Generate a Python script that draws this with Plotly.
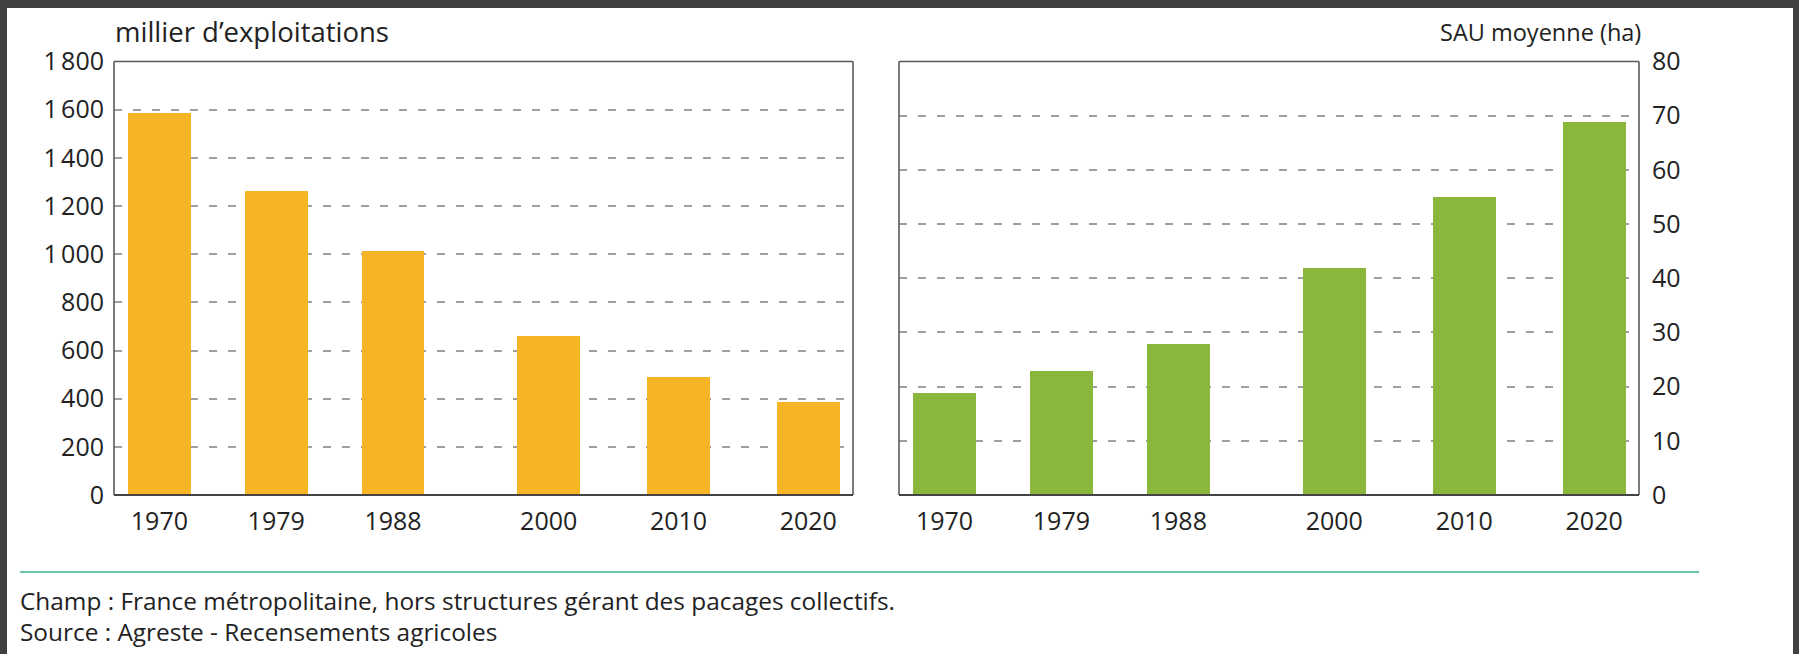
import plotly.graph_objects as go

# ---- data ----
years = [1970, 1979, 1988, 2000, 2010, 2020]
exploitations = [1588, 1263, 1017, 664, 490, 389]   # milliers
sau_moyenne = [19, 23, 28, 42, 55, 69]               # ha

left_ticks = [0, 200, 400, 600, 800, 1000, 1200, 1400, 1600, 1800]
left_ticktext = ["0", "200", "400", "600", "800", "1\u202f000", "1\u202f200", "1\u202f400", "1\u202f600", "1\u202f800"]
right_ticks = [0, 10, 20, 30, 40, 50, 60, 70, 80]
right_ticktext = [str(v) for v in right_ticks]
year_labels = [str(y) for y in years]

title_left = "millier d’exploitations"
title_right = "SAU moyenne (ha)"
note1 = "Champ : France métropolitaine, hors structures gérant des pacages collectifs."
note2 = "Source : Agreste - Recensements agricoles"

# ---- layout constants ----
W, H = 1799, 654
FONT = "Open Sans, sans-serif"
ORANGE = "#F6B524"
GREEN = "#8AB73B"
TXT = "#222222"

def px_x(p):
    return p / W

def px_y(p):
    return 1 - p / H

y_dom = [px_y(495), px_y(61.5)]
xl_dom = [px_x(114), px_x(853)]
xr_dom = [px_x(899), px_x(1639)]
xrange_ = [1966.5, 2023.45]

fig = go.Figure()
fig.add_trace(go.Bar(x=years, y=exploitations, width=4.85, marker=dict(color=ORANGE, line=dict(width=0)),
                     xaxis="x", yaxis="y", showlegend=False, hoverinfo="x+y"))
fig.add_trace(go.Bar(x=years, y=sau_moyenne, width=4.85, marker=dict(color=GREEN, line=dict(width=0)),
                     xaxis="x2", yaxis="y2", showlegend=False, hoverinfo="x+y"))

grid = dict(showgrid=True, gridcolor="#a0a0a0", gridwidth=1.5, griddash="8px,11px", zeroline=False,
            automargin=False)
xcommon = dict(range=xrange_, tickmode="array", tickvals=years, ticktext=year_labels,
               showgrid=False, zeroline=False, showline=False, ticks="", automargin=False,
               tickfont=dict(family=FONT, size=25, color=TXT), ticklabelstandoff=9)

fig.update_layout(
    width=W, height=H,
    margin=dict(l=0, r=0, t=0, b=0, pad=0, autoexpand=False),
    paper_bgcolor="white", plot_bgcolor="white",
    bargap=0,
    xaxis=dict(domain=xl_dom, anchor="y", **xcommon),
    xaxis2=dict(domain=xr_dom, anchor="y2", **xcommon),
    yaxis=dict(domain=y_dom, anchor="x", range=[0, 1800], tickmode="array", tickvals=left_ticks,
               ticktext=left_ticktext, ticks="", showline=False, side="left",
               tickfont=dict(family=FONT, size=25, color=TXT), ticklabelstandoff=9, **grid),
    yaxis2=dict(domain=y_dom, anchor="x2", range=[0, 80], tickmode="array", tickvals=right_ticks,
                ticktext=right_ticktext, ticks="", showline=False, side="right",
                tickfont=dict(family=FONT, size=25, color=TXT), ticklabelstandoff=12, **grid),
    showlegend=False,
)

shapes = []
for xd, yd in (("x domain", "y domain"), ("x2 domain", "y2 domain")):
    shapes.append(dict(type="line", xref=xd, yref=yd, x0=0, x1=1, y0=1, y1=1, line=dict(color="#5a5a5a", width=1.6), layer="above"))
    shapes.append(dict(type="line", xref=xd, yref=yd, x0=0, x1=0, y0=0, y1=1, line=dict(color="#5a5a5a", width=1.6), layer="above"))
    shapes.append(dict(type="line", xref=xd, yref=yd, x0=1, x1=1, y0=0, y1=1, line=dict(color="#5a5a5a", width=1.6), layer="above"))
    shapes.append(dict(type="line", xref=xd, yref=yd, x0=0, x1=1, y0=0, y1=0, line=dict(color="#444444", width=2.2), layer="above"))

# separator line
shapes.append(dict(type="line", xref="paper", yref="paper", x0=px_x(20), x1=px_x(1699), y0=px_y(572), y1=px_y(572),
                   line=dict(color="#6cc9a8", width=2)))
# dark screenshot border
BORDER = "#404040"
shapes.append(dict(type="rect", xref="paper", yref="paper", x0=0, x1=1, y0=px_y(8), y1=1, fillcolor=BORDER, line=dict(width=0)))
shapes.append(dict(type="rect", xref="paper", yref="paper", x0=0, x1=px_x(7), y0=0, y1=1, fillcolor=BORDER, line=dict(width=0)))
shapes.append(dict(type="rect", xref="paper", yref="paper", x0=px_x(1793), x1=1, y0=0, y1=1, fillcolor=BORDER, line=dict(width=0)))
fig.update_layout(shapes=shapes)

ann = [
    dict(text=title_left, x=px_x(113), y=px_y(32), xanchor="left", yanchor="middle",
         font=dict(family=FONT, size=27.5, color=TXT)),
    dict(text=title_right, x=px_x(1643), y=px_y(32), xanchor="right", yanchor="middle",
         font=dict(family=FONT, size=23.5, color=TXT)),
    dict(text=note1, x=px_x(18), y=px_y(600), xanchor="left", yanchor="middle",
         font=dict(family=FONT, size=24.4, color=TXT)),
    dict(text=note2, x=px_x(18), y=px_y(631), xanchor="left", yanchor="middle",
         font=dict(family=FONT, size=24.4, color=TXT)),
]
for a in ann:
    a.update(xref="paper", yref="paper", showarrow=False)
fig.update_layout(annotations=ann)

fig.write_html(
    "out.html",
    config={"displayModeBar": False},
    post_script="document.body.style.margin='0';document.body.style.overflow='hidden';",
)
